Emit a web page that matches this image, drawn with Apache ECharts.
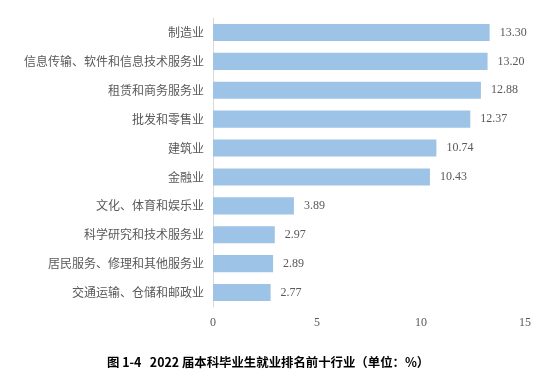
<!DOCTYPE html>
<html>
<head>
<meta charset="utf-8">
<script src="https://cdn.jsdelivr.net/npm/echarts@6/dist/echarts.min.js"></script>
<style>
html,body{margin:0;padding:0;background:#fff;}
#main{width:543px;height:371px;}
</style>
</head>
<body>
<div id="main"></div>
<script>
const categories = ['制造业', '信息传输、软件和信息技术服务业', '租赁和商务服务业', '批发和零售业', '建筑业', '金融业', '文化、体育和娱乐业', '科学研究和技术服务业', '居民服务、修理和其他服务业', '交通运输、仓储和邮政业'];
const values = [13.30, 13.20, 12.88, 12.37, 10.74, 10.43, 3.89, 2.97, 2.89, 2.77];
const xTicks = [0, 5, 10, 15];
const caption = '图 1-4   2022 届本科毕业生就业排名前十行业（单位：%）';

const chart = echarts.init(document.getElementById('main'), null, {renderer: 'canvas'});
chart.setOption({
  animation: false,
  backgroundColor: '#ffffff',
  title: {
    text: caption,
    left: 107,
    top: 356,
    padding: 0,
    textStyle: {fontFamily: 'Noto Sans CJK SC', fontWeight: 'bold', fontSize: 12.4, color: '#000000'}
  },
  grid: {left: 213, right: 18, top: 18, bottom: 64, containLabel: false},
  xAxis: {
    type: 'value',
    min: xTicks[0],
    max: xTicks[xTicks.length - 1],
    interval: xTicks[1] - xTicks[0],
    axisLine: {show: false},
    axisTick: {show: false},
    splitLine: {show: false},
    axisLabel: {fontFamily: 'Liberation Serif', fontSize: 12, color: '#595959', margin: 10}
  },
  yAxis: {
    type: 'category',
    data: categories,
    inverse: true,
    axisLine: {show: true, lineStyle: {color: '#d9d9d9', width: 1}},
    axisTick: {show: false},
    axisLabel: {fontFamily: 'Noto Sans CJK SC', fontSize: 12, color: '#595959', margin: 9}
  },
  series: [{
    type: 'bar',
    data: values,
    barCategoryGap: '41%',
    itemStyle: {color: '#9dc3e6'},
    label: {
      show: true,
      position: 'right',
      distance: 10,
      fontFamily: 'Liberation Serif',
      fontSize: 12,
      color: '#595959',
      formatter: p => p.value.toFixed(2)
    }
  }]
});
</script>
</body>
</html>
